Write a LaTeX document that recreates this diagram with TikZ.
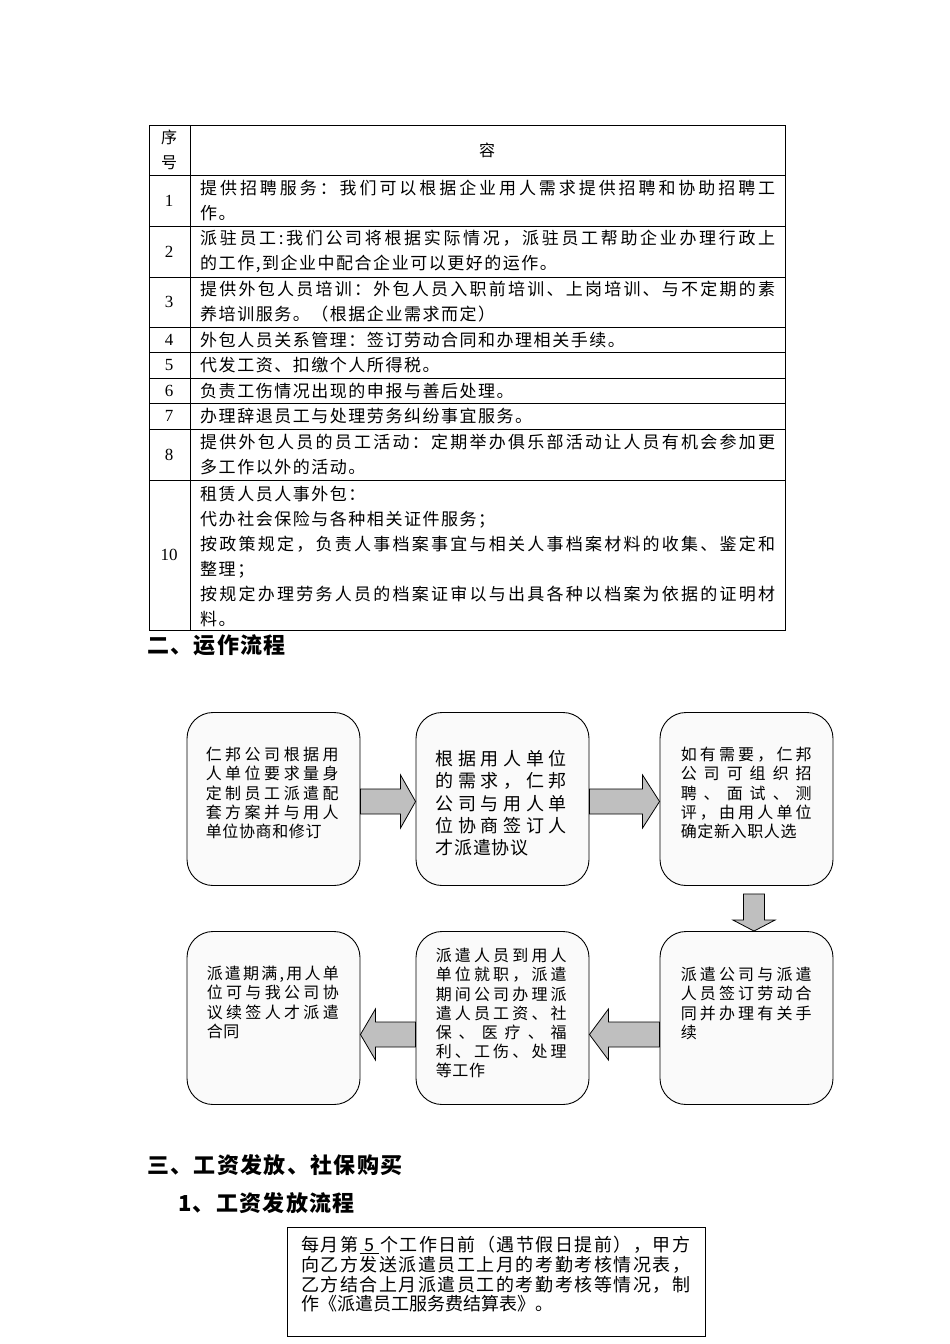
\documentclass[tikz,border=0pt]{standalone}
\usepackage{fontspec}
\setmainfont{Liberation Serif}
\newfontfamily\cjk{Noto Sans CJK SC}
\newfontfamily\cjkt[LetterSpace=9]{Noto Sans CJK SC}
\newfontfamily\cjkb[LetterSpace=4]{Noto Sans CJK SC}
\newfontfamily\cjkh[LetterSpace=6]{Noto Sans CJK SC}
\usetikzlibrary{positioning,calc}

% one line of text spread to a given width
\ExplSyntaxOn
\NewDocumentCommand\jl{mm}{\hbox_to_wd:nn{#1pt}{\tl_map_inline:nn{#2}{##1\hfil}\unskip}}
\ExplSyntaxOff

\tikzset{
  rowtext/.style={anchor=west,inner sep=0pt,align=left,font=\cjkt\fontsize{17}{25}\selectfont},
  numtext/.style={inner sep=0pt,font=\fontsize{17}{25}\selectfont},
  flowbox/.style={draw,line width=0.9pt,rounded corners=26pt,fill=black!2,minimum width=173pt,minimum height=173pt,inner sep=0pt},
  boxtext/.style={anchor=north west,inner sep=0pt,align=left,font=\cjkb\fontsize{16}{19.2}\selectfont},
  blockarrow/.style={draw,line width=0.8pt,fill=black!25,line join=miter},
  heading/.style={anchor=west,inner sep=0pt,font=\cjkh\bfseries\fontsize{22}{25}\selectfont}
}

\begin{document}
\begin{tikzpicture}[x=1pt,y=-1pt]

  \useasboundingbox (0,0) rectangle (950,1344);

  % Table
  \draw[line width=0.8pt] (149,125) rectangle (785,630);
  \draw[line width=0.8pt] (190,125) -- (190,630);
  \foreach \yy in {175,226,277,327,352.5,378,403.5,429,480}
    \draw[line width=0.8pt] (149,\yy) -- (785,\yy);

  \node[inner sep=0pt,font=\cjk\fontsize{16}{25}\selectfont,align=center] (h1) at (169,150) {序\\号};
  \node[inner sep=0pt,font=\cjk\fontsize{16}{25}\selectfont] (h2) at (487,150) {容};

  \foreach \nn/\yy in {1/200.5,2/251.5,3/302,4/340,5/365.5,6/391,7/416,8/454.5,10/555}
    \node[numtext] (n\nn) at (169,\yy) {\nn};

  \node[rowtext] (c1) at (200,200.5) {\jl{575}{提供招聘服务：我们可以根据企业用人需求提供招聘和协助招聘工}\\作。};
  \node[rowtext] (c2) at (200,251.5) {\jl{575}{派驻员工:我们公司将根据实际情况，派驻员工帮助企业办理行政上}\\的工作,到企业中配合企业可以更好的运作。};
  \node[rowtext] (c3) at (200,302) {\jl{575}{提供外包人员培训：外包人员入职前培训、上岗培训、与不定期的素}\\养培训服务。（根据企业需求而定）};
  \node[rowtext] (c4) at (200,340) {外包人员关系管理：签订劳动合同和办理相关手续。};
  \node[rowtext] (c5) at (200,365.5) {代发工资、扣缴个人所得税。};
  \node[rowtext] (c6) at (200,391) {负责工伤情况出现的申报与善后处理。};
  \node[rowtext] (c7) at (200,416) {办理辞退员工与处理劳务纠纷事宜服务。};
  \node[rowtext] (c8) at (200,454.5) {\jl{575}{提供外包人员的员工活动：定期举办俱乐部活动让人员有机会参加更}\\多工作以外的活动。};
  \node[rowtext] (c10) at (200,556) {租赁人员人事外包：\\代办社会保险与各种相关证件服务；\\\jl{575}{按政策规定，负责人事档案事宜与相关人事档案材料的收集、鉴定和}\\整理；\\\jl{575}{按规定办理劳务人员的档案证审以与出具各种以档案为依据的证明材}\\料。};

  % Section 2
  \node[heading] (s2) at (147,645) {二、运作流程};

  \node[flowbox] (b1) at (273.5,799) {};
  \node[flowbox] (b2) at (502.5,799) {};
  \node[flowbox] (b3) at (746.5,799) {};
  \node[flowbox] (b4) at (273.5,1018) {};
  \node[flowbox] (b5) at (502.5,1018) {};
  \node[flowbox] (b6) at (746.5,1018) {};

  \node[boxtext] (t1) at ($(b1.north west)+(19,35)$) {\jl{133}{仁邦公司根据用}\\\jl{133}{人单位要求量身}\\\jl{133}{定制员工派遣配}\\\jl{133}{套方案并与用人}\\单位协商和修订};
  \node[boxtext,font=\cjkb\fontsize{18}{22.3}\selectfont] (t2) at ($(b2.north west)+(20,38)$) {\jl{131}{根据用人单位}\\\jl{131}{的需求，仁邦}\\\jl{131}{公司与用人单}\\\jl{131}{位协商签订人}\\才派遣协议};
  \node[boxtext] (t3) at ($(b3.north west)+(21,35)$) {\jl{131}{如有需要，仁邦}\\\jl{131}{公司可组织招}\\\jl{131}{聘、面试、测}\\\jl{131}{评，由用人单位}\\确定新入职人选};
  \node[boxtext] (t4) at ($(b4.north west)+(20,35)$) {\jl{132}{派遣期满,用人单}\\\jl{132}{位可与我公司协}\\\jl{132}{议续签人才派遣}\\合同};
  \node[boxtext] (t5) at ($(b5.north west)+(20,17)$) {\jl{131}{派遣人员到用人}\\\jl{131}{单位就职，派遣}\\\jl{131}{期间公司办理派}\\\jl{131}{遣人员工资、社}\\\jl{131}{保、医疗、福}\\\jl{131}{利、工伤、处理}\\等工作};
  \node[boxtext] (t6) at ($(b6.north west)+(21,36)$) {\jl{131}{派遣公司与派遣}\\\jl{131}{人员签订劳动合}\\\jl{131}{同并办理有关手}\\续};

  % Block arrows
  \draw[blockarrow] let \p1=($(b1.east)+(0,2.5)$), \p2=($(b2.west)+(0,2.5)$) in
    (\x1,\y1+12.5pt) -- (\x2-15pt,\y1+12.5pt) -- (\x2-15pt,\y1+26.5pt) -- (\x2,\y1)
    -- (\x2-15pt,\y1-26.5pt) -- (\x2-15pt,\y1-12.5pt) -- (\x1,\y1-12.5pt) -- cycle;
  \draw[blockarrow] let \p1=($(b2.east)+(0,2.5)$), \p2=($(b3.west)+(0,2.5)$) in
    (\x1,\y1+12.5pt) -- (\x2-17pt,\y1+12.5pt) -- (\x2-17pt,\y1+26.5pt) -- (\x2,\y1)
    -- (\x2-17pt,\y1-26.5pt) -- (\x2-17pt,\y1-12.5pt) -- (\x1,\y1-12.5pt) -- cycle;
  \draw[blockarrow] let \p1=($(b3.south)+(7.5,8)$), \p2=($(b6.north)+(7.5,0)$) in
    (\x1-10.5pt,\y1) -- (\x1-10.5pt,\y2+11pt) -- (\x1-21pt,\y2+11pt) -- (\x1,\y2)
    -- (\x1+21pt,\y2+11pt) -- (\x1+10.5pt,\y2+11pt) -- (\x1+10.5pt,\y1) -- cycle;
  \draw[blockarrow] let \p1=($(b6.west)+(0,16.5)$), \p2=($(b5.east)+(0,16.5)$) in
    (\x1,\y1+12.5pt) -- (\x2+19pt,\y1+12.5pt) -- (\x2+19pt,\y1+25.5pt) -- (\x2,\y1)
    -- (\x2+19pt,\y1-25.5pt) -- (\x2+19pt,\y1-12.5pt) -- (\x1,\y1-12.5pt) -- cycle;
  \draw[blockarrow] let \p1=($(b5.west)+(0,16.5)$), \p2=($(b4.east)+(0,16.5)$) in
    (\x1,\y1+12.5pt) -- (\x2+15pt,\y1+12.5pt) -- (\x2+15pt,\y1+25.5pt) -- (\x2,\y1)
    -- (\x2+15pt,\y1-25.5pt) -- (\x2+15pt,\y1-12.5pt) -- (\x1,\y1-12.5pt) -- cycle;

  % Section 3
  \node[heading] (s3) at (147,1165) {三、工资发放、社保购买};
  \node[heading] (s31) at (178,1203) {1、工资发放流程};

  \node[draw,line width=0.9pt,anchor=north west,minimum width=418pt,minimum height=109pt] (p1) at (287,1227) {};
  \node[anchor=north west,inner sep=0pt,align=left,font=\cjk\fontsize{18}{19.7}\selectfont] (p1t) at ($(p1.north west)+(14,9)$)
    {\jl{389}{每月第{\underline{\hbox to 19pt{\hfil 5\hfil}}}个工作日前（遇节假日提前），甲方}\\\jl{389}{向乙方发送派遣员工上月的考勤考核情况表，}\\\jl{389}{乙方结合上月派遣员工的考勤考核等情况，制}\\作《派遣员工服务费结算表》。};

\end{tikzpicture}
\end{document}
